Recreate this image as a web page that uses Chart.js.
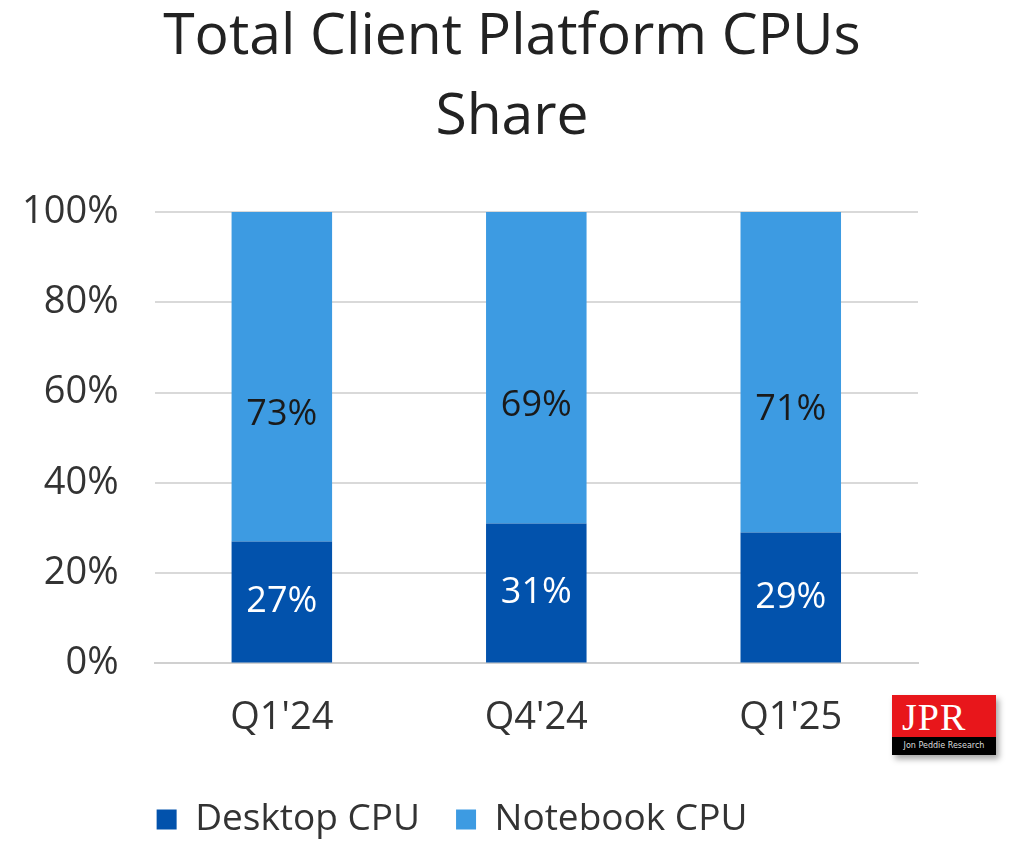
<!DOCTYPE html>
<html>
<head>
<meta charset="utf-8">
<script src="https://cdn.jsdelivr.net/npm/chart.js@4"></script>
<style>
  body { margin: 0; background: #fff; }
  #wrap { position: relative; width: 1024px; height: 854px; }
  #logo { position: absolute; left: 892px; top: 695px; width: 104px; height: 60px;
          box-shadow: 3px 4px 6px rgba(0,0,0,0.35); font-family: "Liberation Serif", serif; }
  #logo .top { background: #e8161b; color: #fff; height: 42px; font-size: 38px; line-height: 44px; padding-left: 10px; letter-spacing: 1px; }
  #logo .bot { background: #000; color: #ddd; height: 18px; font-size: 8px; line-height: 18px; text-align: center; font-family: "DejaVu Sans", sans-serif; }
</style>
</head>
<body>
<div id="wrap">
  <canvas id="chart" width="1024" height="854"></canvas>
  <div id="logo"><div class="top">JPR</div><div class="bot">Jon Peddie Research</div></div>
</div>
<script>
const categories = ["Q1'24", "Q4'24", "Q1'25"];
const desktopShare = [27, 31, 29];
const notebookShare = [73, 69, 71];
const yTicks = [0, 20, 40, 60, 80, 100];
const titleLines = ['Total Client Platform CPUs', 'Share'];

const FONT = '"Open Sans", "Liberation Sans", sans-serif';

// title centred on the whole canvas, like the original
const pageTitle = {
    id: 'pageTitle',
    afterDraw(chart) {
        const ctx = chart.ctx;
        ctx.save();
        ctx.font = '57px ' + FONT;
        ctx.fillStyle = '#222';
        ctx.textAlign = 'center';
        ctx.textBaseline = 'middle';
        titleLines.forEach((line, i) => ctx.fillText(line, chart.width / 2, 38 + i * 80));
        ctx.restore();
    }
};

const barLabels = {
    id: 'barLabels',
    afterDatasetsDraw(chart) {
        const ctx = chart.ctx;
        ctx.save();
        ctx.font = '36px ' + FONT;
        ctx.textAlign = 'center';
        ctx.textBaseline = 'middle';
        chart.data.datasets.forEach((ds, i) => {
            const meta = chart.getDatasetMeta(i);
            meta.data.forEach((bar, j) => {
                ctx.fillStyle = i === 0 ? '#ffffff' : '#1a1a1a';
                const y = (bar.y + bar.base) / 2 + (i === 0 ? 0 : 38);
                ctx.fillText(ds.data[j] + '%', bar.x, y);
            });
        });
        ctx.restore();
    }
};

new Chart(document.getElementById('chart').getContext('2d'), {
    type: 'bar',
    data: {
        labels: categories,
        datasets: [
            { label: 'Desktop CPU', data: desktopShare, backgroundColor: '#0252ac' },
            { label: 'Notebook CPU', data: notebookShare, backgroundColor: '#3d9be2' }
        ]
    },
    options: {
        responsive: false,
        animation: false,
        layout: { padding: { left: -14, right: 106, top: 212, bottom: 6 } },
        datasets: { bar: { categoryPercentage: 1, barPercentage: 0.395 } },
        plugins: {
            legend: {
                position: 'bottom',
                labels: {
                    color: '#333',
                    font: { family: FONT, size: 37 },
                    boxWidth: 20, boxHeight: 20, padding: 36
                }
            },
            tooltip: { enabled: false }
        },
        scales: {
            x: {
                stacked: true,
                grid: { display: false },
                border: { color: '#d0d0d0', width: 2 },
                ticks: { color: '#333', font: { family: FONT, size: 38 }, padding: 24 }
            },
            y: {
                stacked: true,
                min: 0, max: 100,
                afterBuildTicks: axis => { axis.ticks = yTicks.map(v => ({ value: v })); },
                grid: { color: '#d9d9d9', lineWidth: 2, drawTicks: false },
                border: { display: false },
                ticks: { color: '#333', font: { family: FONT, size: 38 }, padding: 36, callback: v => v + '%' }
            }
        }
    },
    plugins: [barLabels, pageTitle]
});
</script>
</body>
</html>
